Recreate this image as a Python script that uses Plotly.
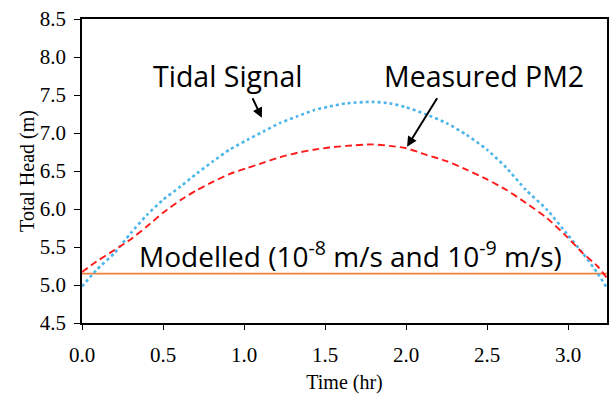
import plotly.graph_objects as go

# ---- data ----
time_hr = [0.00, 0.09, 0.20, 0.30, 0.40, 0.50, 0.61, 0.71, 0.81, 0.91, 1.02, 1.12,
           1.22, 1.33, 1.43, 1.53, 1.63, 1.79, 1.90, 2.00, 2.13, 2.25, 2.37, 2.50,
           2.62, 2.74, 2.87, 2.99, 3.09, 3.18, 3.24]
tidal_signal = [4.98, 5.20, 5.42, 5.68, 5.92, 6.12, 6.30, 6.47, 6.63, 6.78, 6.91, 7.02,
                7.13, 7.22, 7.30, 7.35, 7.39, 7.41, 7.39, 7.34, 7.24, 7.13, 6.98, 6.78,
                6.54, 6.25, 5.99, 5.68, 5.42, 5.16, 4.96]
measured_pm2 = [5.17, 5.31, 5.46, 5.60, 5.77, 5.95, 6.12, 6.25, 6.36, 6.46, 6.54, 6.61,
                6.68, 6.74, 6.78, 6.81, 6.83, 6.85, 6.83, 6.80, 6.71, 6.63, 6.52, 6.39,
                6.25, 6.08, 5.88, 5.64, 5.42, 5.25, 5.09]
modelled_time = [0.00, 3.24]
modelled_head = [5.15, 5.15]

x_range = [0, 3.24]
y_range = [4.5, 8.5]

serif = "Liberation Serif"
sans = "Open Sans"

fig = go.Figure()
fig.add_trace(go.Scatter(x=modelled_time, y=modelled_head, mode="lines",
                         line=dict(color="#F0813A", width=1.8), name="Modelled"))
fig.add_trace(go.Scatter(x=time_hr, y=tidal_signal, mode="lines",
                         line=dict(color="#4DB6E9", width=2.6, dash="dot", shape="spline", smoothing=0.6),
                         name="Tidal Signal"))
fig.add_trace(go.Scatter(x=time_hr, y=measured_pm2, mode="lines",
                         line=dict(color="#FF1A1A", width=1.9, dash="7px,4px", shape="spline", smoothing=0.6),
                         name="Measured PM2"))

axis_common = dict(showgrid=False, zeroline=False, linecolor="black", linewidth=1.5,
                   tickcolor="black", tickwidth=1.3, automargin=False)

fig.update_layout(
    width=609, height=394,
    margin=dict(l=82, r=2, t=19, b=71),
    paper_bgcolor="white", plot_bgcolor="white",
    showlegend=False,
    xaxis=dict(range=x_range, tickmode="linear", tick0=0, dtick=0.5, tickformat=".1f",
               ticks="outside", ticklen=5, mirror=True, showline=True,
               tickfont=dict(family=serif, size=21, color="black"),
               ticklabelstandoff=7,
               title=dict(text="Time (hr)", font=dict(family=serif, size=20, color="black"), standoff=14),
               **axis_common),
    yaxis=dict(range=y_range, tickmode="linear", tick0=4.5, dtick=0.5, tickformat=".1f",
               ticks="outside", ticklen=6, mirror=True, showline=True,
               tickfont=dict(family=serif, size=21, color="black"),
               ticklabelstandoff=4,
               title=dict(text="Total Head (m)", font=dict(family=serif, size=20, color="black"), standoff=0),
               **axis_common),
    xaxis2=dict(range=x_range, overlaying="x", anchor="y", side="bottom",
                tickmode="linear", tick0=0, dtick=0.25, ticks="inside", ticklen=5,
                showticklabels=False, showline=False, showgrid=False, zeroline=False,
                tickcolor="black", tickwidth=1.3, automargin=False),
    yaxis2=dict(range=y_range, overlaying="y", anchor="x", side="left",
                tickmode="linear", tick0=4.5, dtick=0.25, ticks="inside", ticklen=5,
                showticklabels=False, showline=False, showgrid=False, zeroline=False,
                tickcolor="black", tickwidth=1.3, automargin=False),
)

ann_font = dict(family=sans, size=28.5, color="black")
fig.add_annotation(x=0.90, y=7.75, xref="x", yref="y", text="Tidal Signal",
                   showarrow=False, font=ann_font)
fig.add_annotation(x=2.48, y=7.75, xref="x", yref="y", text="Measured PM2",
                   showarrow=False, font=ann_font)
fig.add_annotation(x=1.66, y=5.10, xref="x", yref="y", yanchor="bottom",
                   text="Modelled (10<sup>-8</sup> m/s and 10<sup>-9</sup> m/s)",
                   showarrow=False, font=dict(family=sans, size=28, color="black"))
# arrows
fig.add_annotation(x=1.11, y=7.20, xref="x", yref="y", ax=-10, ay=-21, text="",
                   showarrow=True, arrowhead=2, arrowsize=1, arrowwidth=2, arrowcolor="black")
fig.add_annotation(x=2.006, y=6.82, xref="x", yref="y", ax=31, ay=-50, text="",
                   showarrow=True, arrowhead=2, arrowsize=1, arrowwidth=2, arrowcolor="black")

fig.write_html("out.html", config={"displayModeBar": False},
               post_script="document.body.style.margin='0';document.body.style.overflow='hidden';")
